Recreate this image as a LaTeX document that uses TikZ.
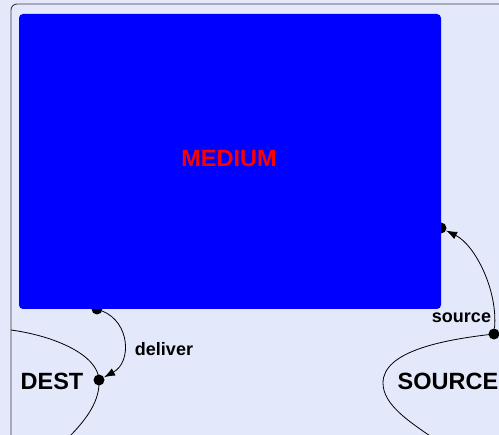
\documentclass[tikz,border=0pt]{standalone}
\usepackage{fontspec}
\setmainfont{Liberation Sans}
\usetikzlibrary{arrows.meta}
\definecolor{bgcol}{RGB}{227,232,251}
\definecolor{framecol}{RGB}{60,60,60}
\tikzset{
  dot/.style={circle, fill=black, inner sep=0pt, minimum size=11pt},
  bigtext/.style={font=\fontsize{23.5}{26}\selectfont\bfseries, inner sep=0pt},
  smalltext/.style={font=\fontsize{18}{20}\selectfont\bfseries, inner sep=0pt},
  region/.style={line width=0.8pt, black},
  conn/.style={line width=0.8pt, black, -{Latex[length=11pt,width=8pt]}},
}
\begin{document}
\begin{tikzpicture}[x=1pt, y=-1pt]
\useasboundingbox (0,0) rectangle (499,435);
\fill[bgcol] (0,0) rectangle (499,435);
\clip (0,0) rectangle (499,435);
\draw[framecol, line width=0.9pt, rounded corners=6pt] (11,4) rectangle (530,470);
% dots (behind the medium)
\node[dot] (m1) at (97,309) {};
\node[dot] (m2) at (441,228) {};
\node[dot] (dest) at (99,380) {};
\node[dot] (src) at (494,334) {};
% medium
\node[fill=blue, rounded corners=4pt, minimum width=422pt, minimum height=295pt, inner sep=0pt] (medium) at (230,161.5) {};
\node[bigtext, text=red] (mediumlabel) at (229,159) {MEDIUM};
% regions
\draw[region] (11,330) .. controls (55,336) and (98,355) .. (dest.center)
  .. controls (100,400) and (88,418) .. (68,438);
\draw[region] (src.center) .. controls (440,340) and (383,352) .. (383,383)
  .. controls (383,405) and (410,422) .. (433,438);
% labels
\node[bigtext] (destlabel) at (52,381) {DEST};
\node[bigtext] (srclabel) at (448,381) {SOURCE};
\node[smalltext] (deliverlabel) at (164,349) {deliver};
\node[smalltext] (sourcelabel) at (461.5,318) {source};
% connectors
\draw[conn] (m1) .. controls (130,322) and (132,362) .. (dest);
\draw[conn] (src) .. controls (498,290) and (475,245) .. (m2);
\end{tikzpicture}
\end{document}
